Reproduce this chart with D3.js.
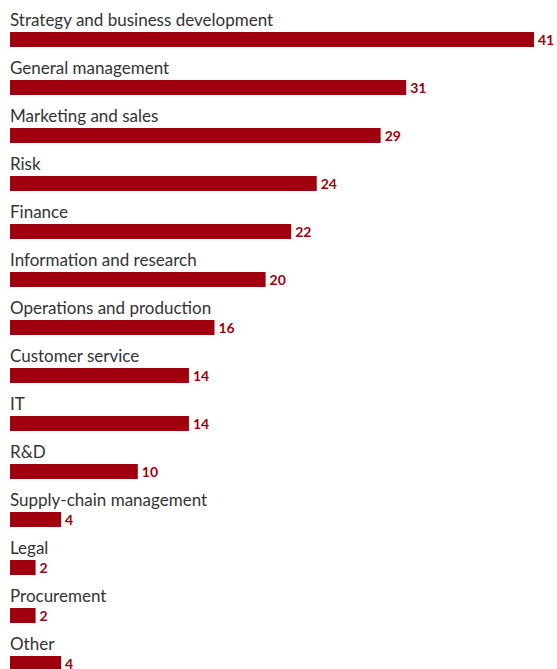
<!DOCTYPE html>
<html>
<head>
<meta charset="utf-8">
<script src="https://cdn.jsdelivr.net/npm/d3@7"></script>
<style>
  html, body { margin: 0; padding: 0; background: #fff; }
  svg { display: block; }
</style>
</head>
<body>
<svg id="chart" width="557" height="669"></svg>
<script>
const categories = [
  "Strategy and business development",
  "General management",
  "Marketing and sales",
  "Risk",
  "Finance",
  "Information and research",
  "Operations and production",
  "Customer service",
  "IT",
  "R&D",
  "Supply-chain management",
  "Legal",
  "Procurement",
  "Other"
];
const values = [41, 31, 29, 24, 22, 20, 16, 14, 14, 10, 4, 2, 2, 4];

const svg = d3.select("#chart");
const left = 10;
const rowStep = 48;
const firstBarTop = 32;
const barH = 15;

const x = d3.scaleLinear().domain([0, 41]).range([left, 534]);
const y = d3.scaleBand()
  .domain(categories)
  .range([firstBarTop, firstBarTop + rowStep * categories.length])
  .paddingInner(0).paddingOuter(0);

const rows = svg.selectAll("g.row")
  .data(categories.map((c, i) => ({ c, v: values[i] })))
  .enter().append("g").attr("class", "row")
  .attr("transform", d => `translate(0,${y(d.c)})`);

// category label above each bar
rows.append("text")
  .attr("x", left)
  .attr("y", -6)
  .attr("fill", "#333")
  .style("font-family", "Lato, 'Noto Sans', sans-serif")
  .style("font-size", "17px")
  .text(d => d.c);

rows.append("rect")
  .attr("x", x(0))
  .attr("y", 0)
  .attr("width", d => x(d.v) - x(0))
  .attr("height", barH)
  .attr("fill", "#9e000d");

// value label at the end of each bar
rows.append("text")
  .attr("x", d => x(d.v) + 4)
  .attr("y", 13)
  .attr("fill", "#9e000d")
  .style("font-family", "Lato, 'Noto Sans', sans-serif")
  .style("font-weight", "bold")
  .style("font-size", "14px")
  .text(d => d.v);
</script>
</body>
</html>
